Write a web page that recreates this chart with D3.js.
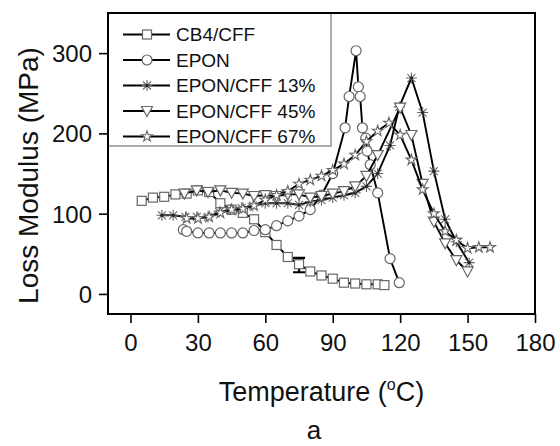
<!DOCTYPE html>
<html>
<head>
<meta charset="utf-8">
<script src="https://cdn.jsdelivr.net/npm/d3@7"></script>
<style>
  body { margin: 0; background: #fff; }
  text { font-family: "Liberation Sans", Arial, sans-serif; fill: #111; }
</style>
</head>
<body>
<svg id="chart" width="560" height="446"></svg>
<script>
// values
const cb4Temp = [5, 10, 15, 20, 25, 30, 35, 40, 45, 50, 55, 60, 65, 70, 75, 80, 85, 90, 95, 100, 105, 110, 113];
const cb4Loss = [116, 120, 121, 124, 125, 129, 127, 113, 105, 101, 93, 77, 61, 46, 37, 28, 23, 19, 14, 13, 12, 12, 11];
const cb4Err = { temp: 75, low: 27, high: 45 };

const eponTemp = [23.5, 25, 30, 35, 40, 45, 50, 55, 60, 65, 70, 75, 80, 85, 90, 95.5, 97.3, 100.4, 101.4, 102.2, 103.2, 104.7, 105.3, 106.7, 110, 115.5, 119.6];
const eponLoss = [80, 78, 76, 76, 76, 76, 76, 79, 80, 85, 91, 97, 105, 123, 150, 207, 246, 303, 258, 246, 207, 194, 178, 161, 126, 44, 14];

const cff13Temp = [14, 19, 24.5, 29.5, 34.5, 39.5, 44.5, 49.5, 54.5, 60, 65, 70, 75, 80, 85, 90, 95, 100, 105, 110, 115.5, 119.6, 125, 130, 135, 140, 145, 150.7];
const cff13Loss = [98, 98, 96, 96, 96, 102, 105, 107, 110, 113, 113, 113, 111, 115, 117, 120, 123, 126, 134, 150, 185, 233, 269, 226, 153, 93, 65, 39];

const cff45Temp = [24, 29.5, 34.5, 40, 45, 50, 55, 60, 65, 70, 75, 80, 85, 90, 95, 100, 105, 110, 120, 125, 130, 135, 140, 145, 150];
const cff45Loss = [125, 129, 127, 129, 126, 125, 122, 123, 122, 124, 124, 120, 122, 125, 128, 134, 147, 173, 232, 198, 137, 90, 63, 42, 28];

const cff67Temp = [25, 30, 35, 40, 45, 50, 55, 60, 65, 70, 75, 80, 85, 90, 95, 100, 105, 110, 115, 120, 125, 130, 135, 140, 145, 150, 155, 160];
const cff67Loss = [94, 94, 96, 101, 105, 106, 110, 117, 123, 128, 137, 142, 147, 154, 162, 173, 190, 203, 213, 198, 167, 130, 100, 78, 67, 57, 58, 58];

const seriesNames = ['CB4/CFF', 'EPON', 'EPON/CFF 13%', 'EPON/CFF 45%', 'EPON/CFF 67%'];
const seriesMarkers = ['square', 'circle', 'asterisk', 'triangle', 'star'];

const xTicks = [0, 30, 60, 90, 120, 150, 180];
const yTicks = [0, 100, 200, 300];

const series = [
  { temp: cb4Temp, loss: cb4Loss },
  { temp: eponTemp, loss: eponLoss },
  { temp: cff13Temp, loss: cff13Loss },
  { temp: cff45Temp, loss: cff45Loss },
  { temp: cff67Temp, loss: cff67Loss }
].map((s, i) => ({
  name: seriesNames[i],
  marker: seriesMarkers[i],
  points: s.temp.map((t, j) => ({ t, v: s.loss[j] }))
}));

const svg = d3.select('#chart');
const margin = { top: 13, right: 25, bottom: 132, left: 108 };
const width = +svg.attr('width') - margin.left - margin.right;
const height = +svg.attr('height') - margin.top - margin.bottom;

const x = d3.scaleLinear().domain([-10, 180]).range([0, width]);
const y = d3.scaleLinear().domain([-25, 350]).range([height, 0]);

const g = svg.append('g')
  .attr('transform', `translate(${margin.left},${margin.top})`);

const markerStroke = '#666';

// draws one marker shape centred at 0,0
function drawMarker(sel, type) {
  if (type === 'square') {
    sel.append('rect').attr('x', -4.5).attr('y', -4.5).attr('width', 9).attr('height', 9)
      .attr('fill', '#fff').attr('stroke', markerStroke).attr('stroke-width', 1.2);
  } else if (type === 'circle') {
    sel.append('circle').attr('r', 5)
      .attr('fill', '#fff').attr('stroke', markerStroke).attr('stroke-width', 1.2);
  } else if (type === 'triangle') {
    sel.append('path').attr('d', 'M-5.5,-4.5L5.5,-4.5L0,5.5Z')
      .attr('fill', '#fff').attr('stroke', markerStroke).attr('stroke-width', 1.2);
  } else if (type === 'star') {
    sel.append('path').attr('d', d3.symbol().type(d3.symbolStar).size(36)())
      .attr('fill', '#fff').attr('stroke', markerStroke).attr('stroke-width', 1.1);
  } else if (type === 'asterisk') {
    sel.append('path').attr('d', 'M-5.5,0H5.5M0,-5.5V5.5M-4,-4L4,4M-4,4L4,-4')
      .attr('stroke', markerStroke).attr('stroke-width', 1.1);
    sel.append('circle').attr('r', 1.6).attr('fill', '#222');
  }
}

const line = d3.line().x(d => x(d.t)).y(d => y(d.v));

series.forEach((s, i) => {
  const sg = g.append('g').attr('class', 'series');
  sg.append('path')
    .datum(s.points)
    .attr('fill', 'none')
    .attr('stroke', '#000')
    .attr('stroke-width', 1.9)
    .attr('d', line);
  if (i === 0) {
    // error bar on CB4/CFF
    const ex = x(cb4Err.temp);
    sg.append('path')
      .attr('d', `M${ex},${y(cb4Err.low)}V${y(cb4Err.high)}M${ex - 6},${y(cb4Err.low)}H${ex + 6}M${ex - 6},${y(cb4Err.high)}H${ex + 6}`)
      .attr('stroke', '#000').attr('stroke-width', 2.2).attr('fill', 'none');
  }
  sg.selectAll('g.pt')
    .data(s.points)
    .enter()
    .append('g')
    .attr('class', 'pt')
    .attr('transform', d => `translate(${x(d.t)},${y(d.v)})`)
    .each(function () { drawMarker(d3.select(this), s.marker); });
});

// axes
const xAxis = g.append('g').attr('transform', `translate(0,${height})`);
xAxis.call(d3.axisBottom(x).tickValues(d3.range(-10, 181, 10)).tickSize(5).tickFormat(''));
xAxis.call(d3.axisBottom(x).tickValues(xTicks).tickSize(9).tickPadding(11).tickFormat(d3.format('d')));

const yAxis = g.append('g');
yAxis.call(d3.axisLeft(y).tickValues([50, 150, 250]).tickSize(5).tickFormat(''));
yAxis.call(d3.axisLeft(y).tickValues(yTicks).tickSize(9).tickPadding(7).tickFormat(d3.format('d')));

g.selectAll('.domain').remove();
g.selectAll('.tick line').attr('stroke', '#000').attr('stroke-width', 1.6);
g.selectAll('.tick text')
  .style('font-family', '"Liberation Sans", Arial, sans-serif')
  .style('font-size', '24px')
  .attr('fill', '#111');
yAxis.selectAll('.tick text').attr('dy', '0.35em');

// legend
const legend = g.append('g');
legend.append('rect')
  .attr('x', 0).attr('y', 0)
  .attr('width', 223).attr('height', 133)
  .attr('fill', 'none').attr('stroke', '#777').attr('stroke-width', 1.2);

const rows = legend.selectAll('g.row')
  .data(series)
  .enter()
  .append('g')
  .attr('class', 'row')
  .attr('transform', (d, i) => `translate(0,${21.5 + i * 25.5})`);

rows.append('line')
  .attr('x1', 15).attr('x2', 62)
  .attr('stroke', '#000').attr('stroke-width', 1.8);
rows.append('g')
  .attr('transform', 'translate(39,0)')
  .each(function (d) { drawMarker(d3.select(this), d.marker); });
rows.append('text')
  .attr('x', 68)
  .attr('dy', '0.35em')
  .style('font-size', '19px')
  .text(d => d.name);

// frame
g.append('rect')
  .attr('x', 0).attr('y', 0)
  .attr('width', width).attr('height', height)
  .attr('fill', 'none').attr('stroke', '#000').attr('stroke-width', 2);

// axis titles
svg.append('text')
  .attr('transform', `translate(38,${margin.top + height / 2 + 12}) rotate(-90)`)
  .attr('text-anchor', 'middle')
  .style('font-size', '28px')
  .text('Loss Modulus (MPa)');

const xTitle = svg.append('text')
  .attr('x', margin.left + width / 2)
  .attr('y', 401)
  .attr('text-anchor', 'middle')
  .style('font-size', '27px');
xTitle.append('tspan').text('Temperature (');
xTitle.append('tspan').attr('dy', -11).style('font-size', '16px').text('o');
xTitle.append('tspan').attr('dy', 11).text('C)');

svg.append('text')
  .attr('x', 314)
  .attr('y', 439)
  .attr('text-anchor', 'middle')
  .style('font-size', '26px')
  .text('a');
</script>
</body>
</html>
